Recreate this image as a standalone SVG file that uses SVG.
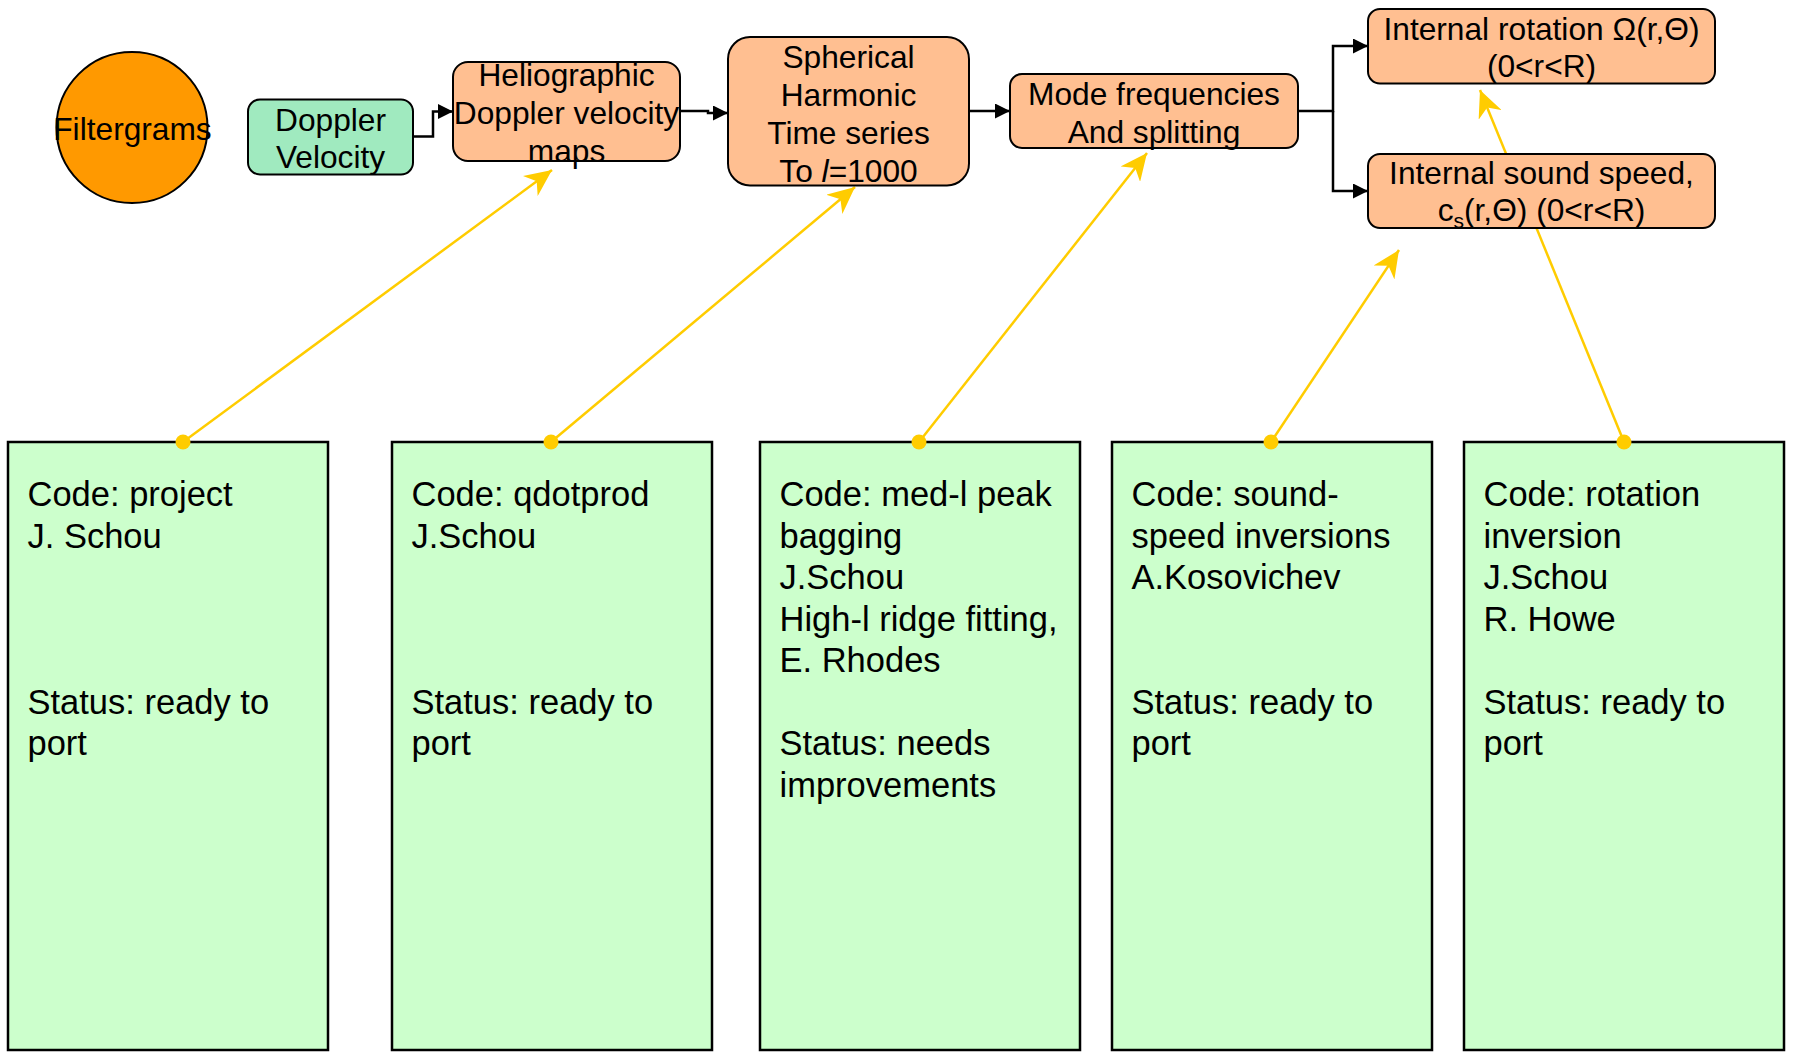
<svg xmlns="http://www.w3.org/2000/svg" width="1797" height="1053" viewBox="0 0 1797 1053">
  <style>
    text { font-family: "Liberation Sans", Arial, sans-serif; fill: #000; }
    .top { font-size: 31.7px; text-anchor: middle; }
    .note { font-size: 34.5px; }
    .peach { fill: #FFBF91; stroke: #000; stroke-width: 2; }
    .mint { fill: #A0EABF; stroke: #000; stroke-width: 2; }
    .card { fill: #CCFFCC; stroke: #000; stroke-width: 2.5; }
    .flow { fill: none; stroke: #000; stroke-width: 2.5; marker-end: url(#arrow); }
    .link { fill: none; stroke: #FFCC00; stroke-width: 2.5; marker-start: url(#dot); marker-end: url(#stealth); }
  </style>
  <defs>
    <marker id="arrow" viewBox="0 0 15 15" refX="15" refY="7.5" markerWidth="15" markerHeight="15" markerUnits="userSpaceOnUse" orient="auto">
      <path d="M0,0 L15,7.5 L0,15 Z" fill="#000"/>
    </marker>
    <marker id="stealth" viewBox="0 0 27 25" refX="27" refY="12.5" markerWidth="27" markerHeight="25" markerUnits="userSpaceOnUse" orient="auto">
      <path d="M27,12.5 L0,0 L8,12.5 L0,25 Z" fill="#FFCC00"/>
    </marker>
    <marker id="dot" viewBox="0 0 16 16" refX="8" refY="8" markerWidth="16" markerHeight="16" markerUnits="userSpaceOnUse">
      <circle cx="8" cy="8" r="7.5" fill="#FFCC00"/>
    </marker>
  </defs>

  <!-- code / status cards -->
  <g id="card-project">
    <rect class="card" x="8" y="442" width="320" height="608"/>
    <text class="note" x="27.5"><tspan x="27.5" y="506">Code: project</tspan><tspan x="27.5" y="547.5">J. Schou</tspan><tspan x="27.5" y="713.5">Status: ready to</tspan><tspan x="27.5" y="755">port</tspan></text>
  </g>
  <g id="card-qdotprod">
    <rect class="card" x="392" y="442" width="320" height="608"/>
    <text class="note" x="411.5"><tspan x="411.5" y="506">Code: qdotprod</tspan><tspan x="411.5" y="547.5">J.Schou</tspan><tspan x="411.5" y="713.5">Status: ready to</tspan><tspan x="411.5" y="755">port</tspan></text>
  </g>
  <g id="card-peakbagging">
    <rect class="card" x="760" y="442" width="320" height="608"/>
    <text class="note" x="779.5"><tspan x="779.5" y="506">Code: med-l peak</tspan><tspan x="779.5" y="547.5">bagging</tspan><tspan x="779.5" y="589">J.Schou</tspan><tspan x="779.5" y="630.5">High-l ridge fitting,</tspan><tspan x="779.5" y="672">E. Rhodes</tspan><tspan x="779.5" y="755">Status: needs</tspan><tspan x="779.5" y="796.5">improvements</tspan></text>
  </g>
  <g id="card-soundspeed">
    <rect class="card" x="1112" y="442" width="320" height="608"/>
    <text class="note" x="1131.5"><tspan x="1131.5" y="506">Code: sound-</tspan><tspan x="1131.5" y="547.5">speed inversions</tspan><tspan x="1131.5" y="589">A.Kosovichev</tspan><tspan x="1131.5" y="713.5">Status: ready to</tspan><tspan x="1131.5" y="755">port</tspan></text>
  </g>
  <g id="card-rotation">
    <rect class="card" x="1464" y="442" width="320" height="608"/>
    <text class="note" x="1483.5"><tspan x="1483.5" y="506">Code: rotation</tspan><tspan x="1483.5" y="547.5">inversion</tspan><tspan x="1483.5" y="589">J.Schou</tspan><tspan x="1483.5" y="630.5">R. Howe</tspan><tspan x="1483.5" y="713.5">Status: ready to</tspan><tspan x="1483.5" y="755">port</tspan></text>
  </g>

  <!-- connectors -->
  <g id="connectors">
    <path class="flow" d="M413,136.5 H433 V111.5 H453"/>
    <path class="flow" d="M680,111 H708 V113 H728"/>
    <path class="flow" d="M969,111 H1010"/>
    <path class="flow" d="M1298,111 H1333 V46 H1368"/>
    <path class="flow" d="M1333,111 V191 H1368"/>
    <path class="link" d="M183,442 L552,170"/>
    <path class="link" d="M551,442 L855,187"/>
    <path class="link" d="M919,442 L1147,153"/>
    <path class="link" d="M1271,442 L1399,250"/>
    <path class="link" d="M1624,442 L1480,90"/>
  </g>

  <!-- pipeline nodes -->
  <g id="filtergrams">
    <ellipse cx="132" cy="127.5" rx="75.5" ry="75.5" fill="#FF9900" stroke="#000" stroke-width="2"/>
    <text class="top" x="132.5" y="140">Filtergrams</text>
  </g>
  <g id="doppler-velocity">
    <rect class="mint" x="248" y="99.5" width="165" height="75" rx="12"/>
    <text class="top"><tspan x="330.5" y="130.5">Doppler</tspan><tspan x="330.5" y="168">Velocity</tspan></text>
  </g>
  <g id="heliographic-maps">
    <rect class="peach" x="453" y="62" width="227" height="99" rx="15"/>
    <text class="top"><tspan x="566.5" y="86">Heliographic</tspan><tspan x="566.5" y="124">Doppler velocity</tspan><tspan x="566.5" y="161.5">maps</tspan></text>
  </g>
  <g id="spherical-harmonic">
    <rect class="peach" x="728" y="37" width="241" height="148.5" rx="22"/>
    <text class="top"><tspan x="848.5" y="67.5">Spherical</tspan><tspan x="848.5" y="105.5">Harmonic</tspan><tspan x="848.5" y="143.5">Time series</tspan><tspan x="848.5" y="181.5">To <tspan font-style="italic">l</tspan>=1000</tspan></text>
  </g>
  <g id="mode-frequencies">
    <rect class="peach" x="1010" y="74" width="288" height="74" rx="12"/>
    <text class="top"><tspan x="1154" y="105">Mode frequencies</tspan><tspan x="1154" y="142.5">And splitting</tspan></text>
  </g>
  <g id="internal-rotation">
    <rect class="peach" x="1368" y="9" width="347" height="74.5" rx="12"/>
    <text class="top"><tspan x="1541.5" y="40">Internal rotation Ω(r,Θ)</tspan><tspan x="1541.5" y="77">(0&lt;r&lt;R)</tspan></text>
  </g>
  <g id="internal-sound-speed">
    <rect class="peach" x="1368" y="154" width="347" height="74" rx="12"/>
    <text class="top"><tspan x="1541.5" y="184">Internal sound speed,</tspan><tspan x="1541.5" y="221">c<tspan font-size="21" dy="7">s</tspan><tspan dy="-7">(r,Θ) (0&lt;r&lt;R)</tspan></tspan></text>
  </g>
</svg>
